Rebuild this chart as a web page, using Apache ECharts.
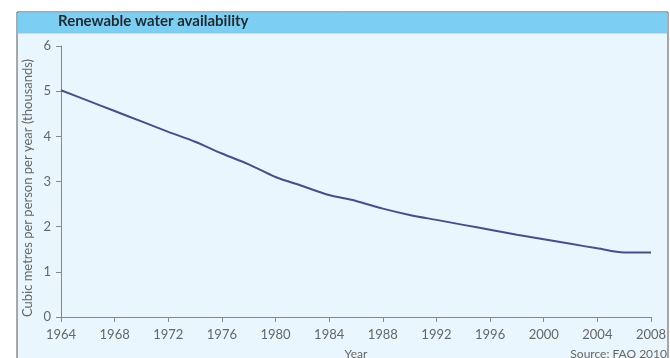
<!DOCTYPE html>
<html>
<head>
<meta charset="utf-8">
<script src="https://cdn.jsdelivr.net/npm/echarts@6/dist/echarts.min.js"></script>
<style>
  html, body { margin: 0; padding: 0; background: #fff; }
  #main { width: 670px; height: 358px; }
</style>
</head>
<body>
<div id="main"></div>
<script>
// data
var years = [1964, 1966, 1968, 1970, 1972, 1974, 1976, 1978, 1980, 1982, 1984,
	1986, 1988, 1990, 1992, 1994, 1996, 1998, 2000, 2002, 2004, 2006, 2008];
var water = [5.02, 4.79, 4.56, 4.33, 4.10, 3.88, 3.62, 3.38, 3.10, 2.90, 2.70,
	2.57, 2.40, 2.26, 2.15, 2.04, 1.93, 1.82, 1.72, 1.62, 1.52, 1.43, 1.43];
var titleText = 'Renewable water availability';
var yName = 'Cubic metres per person per year (thousands)';
var xName = 'Year';
var sourceText = 'Source: FAO 2010';

var points = [];
for (var i = 0; i < years.length; i++) {
	points.push([years[i], water[i]]);
}

var font = 'Lato, "Open Sans", sans-serif';
var chart = echarts.init(document.getElementById('main'));

var option = {
	backgroundColor: '#ffffff',
	animation: false,
	graphic: [
		{
			type: 'rect', z: -10,
			shape: {x: 17, y: 12, width: 651, height: 360},
			style: {fill: '#eaf6fd', stroke: '#555', lineWidth: 1}
		},
		{
			type: 'rect', z: -9,
			shape: {x: 17.5, y: 12.5, width: 650, height: 21},
			style: {fill: '#7ccff2'}
		},
		{
			type: 'text', left: 58, top: 14,
			style: {text: titleText, fill: '#1f2a33', font: 'bold 15px ' + font}
		},
		{
			type: 'text', x: 28, y: 188, rotation: Math.PI / 2,
			style: {text: yName, fill: '#666', font: '13px ' + font,
				align: 'center', verticalAlign: 'middle'}
		},
		{
			type: 'text', right: 3, top: 348,
			style: {text: sourceText, fill: '#666', font: '12px ' + font}
		}
	],
	grid: {left: 61, right: 19, top: 46, bottom: 41,
		containLabel: false, outerBoundsMode: 'none'},
	xAxis: {
		type: 'value',
		min: 1964, max: 2008, interval: 4,
		name: xName, nameLocation: 'middle', nameGap: 31,
		nameTextStyle: {color: '#666', fontSize: 12, fontFamily: font},
		axisLine: {lineStyle: {color: '#888'}},
		axisTick: {show: true, length: 5, lineStyle: {color: '#888'}},
		axisLabel: {
			color: '#666', fontSize: 13, fontFamily: font, margin: 11,
			formatter: function (v) { return String(v); }
		},
		splitLine: {show: false}
	},
	yAxis: {
		type: 'value',
		min: 0, max: 6, interval: 1,
		axisLine: {show: true, lineStyle: {color: '#888'}},
		axisTick: {show: true, length: 5, lineStyle: {color: '#888'}},
		axisLabel: {color: '#666', fontSize: 13, fontFamily: font, margin: 10},
		splitLine: {show: false}
	},
	series: [
		{
			type: 'line',
			data: points,
			smooth: 0.3,
			showSymbol: false,
			lineStyle: {color: '#4a4d8c', width: 2}
		}
	]
};

chart.setOption(option);
</script>
</body>
</html>
